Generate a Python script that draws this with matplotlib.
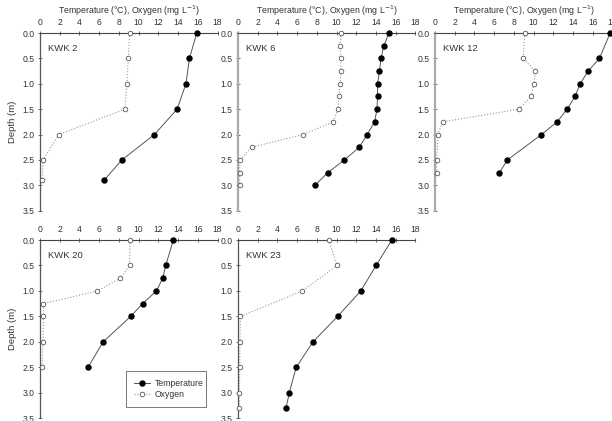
import matplotlib
matplotlib.use('Agg')
import matplotlib.pyplot as plt

plt.rcParams['font.family'] = ['Liberation Sans', 'DejaVu Sans']

# KWK 2
depth_2 = [0.0, 0.5, 1.0, 1.5, 2.0, 2.5, 2.9]
temp_2 = [15.9, 15.15, 14.8, 13.9, 11.6, 8.3, 6.5]
oxy_2 = [9.1, 8.95, 8.8, 8.6, 1.9, 0.3, 0.25]

# KWK 6
depth_6 = [0.0, 0.25, 0.5, 0.75, 1.0, 1.25, 1.5, 1.75, 2.0, 2.25, 2.5, 2.75, 3.0]
temp_6 = [15.3, 14.8, 14.5, 14.35, 14.15, 14.15, 14.1, 13.85, 13.1, 12.3, 10.8, 9.1, 7.8]
oxy_6 = [10.4, 10.37, 10.44, 10.44, 10.34, 10.24, 10.14, 9.63, 6.6, 1.38, 0.17, 0.17, 0.17]

# KWK 12
depth_12 = [0.0, 0.5, 0.75, 1.0, 1.25, 1.5, 1.75, 2.0, 2.5, 2.75]
temp_12 = [17.76, 16.68, 15.53, 14.72, 14.2, 13.4, 12.38, 10.8, 7.34, 6.53]
oxy_12 = [9.1, 8.93, 10.15, 10.05, 9.78, 8.49, 0.78, 0.3, 0.17, 0.17]

# KWK 20
depth_20 = [0.0, 0.5, 0.75, 1.0, 1.25, 1.5, 2.0, 2.5]
temp_20 = [13.52, 12.75, 12.45, 11.8, 10.4, 9.19, 6.4, 4.86]
oxy_20 = [9.12, 9.09, 8.15, 5.8, 0.34, 0.34, 0.3, 0.2]

# KWK 23
depth_23 = [0.0, 0.5, 1.0, 1.5, 2.0, 2.5, 3.0, 3.3]
temp_23 = [15.6, 14.0, 12.45, 10.1, 7.6, 5.9, 5.2, 4.87]
oxy_23 = [9.2, 10.05, 6.53, 0.24, 0.2, 0.17, 0.14, 0.14]

names = ['KWK 2', 'KWK 6', 'KWK 12', 'KWK 20', 'KWK 23']
depths = [depth_2, depth_6, depth_12, depth_20, depth_23]
temps = [temp_2, temp_6, temp_12, temp_20, temp_23]
oxys = [oxy_2, oxy_6, oxy_12, oxy_20, oxy_23]

x_ticks = list(range(0, 20, 2))
y_ticks = [0.0, 0.5, 1.0, 1.5, 2.0, 2.5, 3.0, 3.5]

fig = plt.figure(figsize=(6.12, 4.21), dpi=100)

# axes positions [left, bottom, width, height] (figure fraction)
w = 0.290
pos = [[0.0654, 0.4995, w, 0.4221],
       [0.3889, 0.4995, w, 0.4221],
       [0.7108, 0.4995, w, 0.4221],
       [0.0654, 0.0064, w, 0.4235],
       [0.3889, 0.0064, w, 0.4235]]

txt = '#333333'
for i in range(5):
    ax = fig.add_axes(pos[i])
    lt, = ax.plot(temps[i], depths[i], '-o', color='#555555', lw=0.7,
                  ms=3.6, mfc='black', mec='black', clip_on=False, zorder=4,
                  label='Temperature')
    lo, = ax.plot(oxys[i], depths[i], ':o', color='#999999', lw=0.8,
                  ms=3.3, mfc='white', mec='#555555', mew=0.6, clip_on=False,
                  zorder=3, label='Oxygen')
    ax.set_xlim(0, 18)
    ax.set_ylim(3.5, 0)
    ax.xaxis.tick_top()
    ax.set_xticks(x_ticks)
    ax.set_yticks(y_ticks)
    ax.set_yticklabels(['%.1f' % y for y in y_ticks])
    ax.tick_params(direction='inout', length=3, width=0.6, labelsize=6.2,
                   colors='#555555', labelcolor=txt, pad=2.5)
    ax.spines['right'].set_visible(False)
    ax.spines['bottom'].set_visible(False)
    ax.spines['top'].set_color('#444444')
    ax.spines['top'].set_linewidth(0.8)
    if i in (1, 2):
        ax.spines['left'].set_color('#aaaaaa')
        ax.spines['left'].set_linewidth(1.6)
    else:
        ax.spines['left'].set_color('#555555')
        ax.spines['left'].set_linewidth(0.9)
    ax.patch.set_alpha(0)
    ax.text(0.8, 0.3, names[i], fontsize=6.8, color=txt, va='center')
    if i < 3:
        ax.xaxis.set_label_position('top')
        ax.set_xlabel('Temperature (\u00b0C), Oxygen (mg L$^{-1}$)',
                      fontsize=6.3, color=txt, labelpad=3)
    if i in (0, 3):
        ax.set_ylabel('Depth (m)', fontsize=6.8, color=txt, labelpad=4)
    if i == 3:
        leg = ax.legend(handles=[lt, lo], loc='lower left',
                        bbox_to_anchor=(0.462, 0.041, 0.496, 0.185),
                        mode='expand', fontsize=6.2, frameon=True,
                        fancybox=False, handlelength=1.9, borderpad=0.9,
                        labelspacing=0.2, handletextpad=0.5)
        leg.get_frame().set_edgecolor('#555555')
        leg.get_frame().set_linewidth(0.7)
        for t in leg.get_texts():
            t.set_color(txt)

fig.savefig('out.png', dpi=100)
